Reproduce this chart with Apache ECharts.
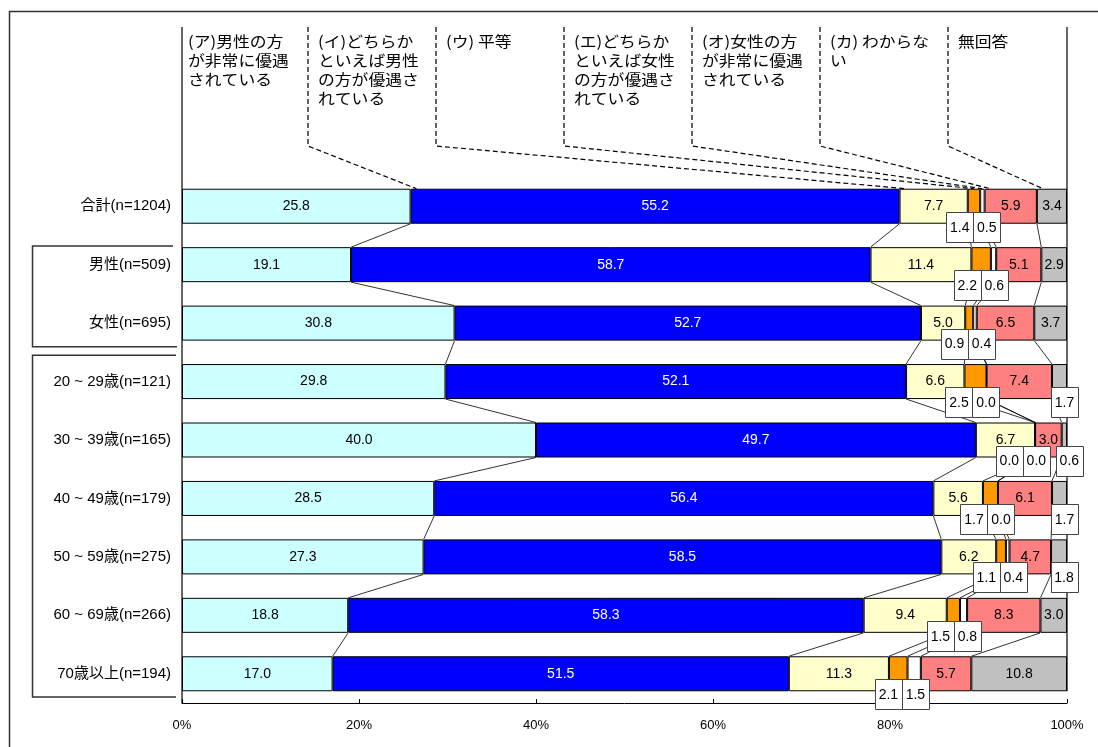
<!DOCTYPE html>
<html>
<head>
<meta charset="utf-8">
<script src="https://cdn.jsdelivr.net/npm/echarts@6/dist/echarts.min.js"></script>
<style>html,body{margin:0;padding:0;background:#fff}#c{width:1098px;height:747px}</style>
</head>
<body>
<div id="c"></div>
<script>
// ---------------- data ----------------
const categories = ['合計(n=1204)', '男性(n=509)', '女性(n=695)', '20 ~ 29歳(n=121)', '30 ~ 39歳(n=165)',
  '40 ~ 49歳(n=179)', '50 ~ 59歳(n=275)', '60 ~ 69歳(n=266)', '70歳以上(n=194)'];
const seriesNames = ['(ア)男性の方が非常に優遇されている', '(イ)どちらかといえば男性の方が優遇されている', '(ウ) 平等',
  '(エ)どちらかといえば女性の方が優遇されている', '(オ)女性の方が非常に優遇されている', '(カ) わからない', '無回答'];
const headerLines = [
  ['(ア)男性の方', 'が非常に優遇', 'されている'],
  ['(イ)どちらか', 'といえば男性', 'の方が優遇さ', 'れている'],
  ['(ウ) 平等'],
  ['(エ)どちらか', 'といえば女性', 'の方が優遇さ', 'れている'],
  ['(オ)女性の方', 'が非常に優遇', 'されている'],
  ['(カ) わからな', 'い'],
  ['無回答']
];
const valA  = [25.8, 19.1, 30.8, 29.8, 40.0, 28.5, 27.3, 18.8, 17.0];
const valI  = [55.2, 58.7, 52.7, 52.1, 49.7, 56.4, 58.5, 58.3, 51.5];
const valU  = [7.7, 11.4, 5.0, 6.6, 6.7, 5.6, 6.2, 9.4, 11.3];
const valE  = [1.4, 2.2, 0.9, 2.5, 0.0, 1.7, 1.1, 1.5, 2.1];
const valO  = [0.5, 0.6, 0.4, 0.0, 0.0, 0.0, 0.4, 0.8, 1.5];
const valKa = [5.9, 5.1, 6.5, 7.4, 3.0, 6.1, 4.7, 8.3, 5.7];
const valNA = [3.4, 2.9, 3.7, 1.7, 0.6, 1.7, 1.8, 3.0, 10.8];
const xTicks = [0, 20, 40, 60, 80, 100];
const xTickLabels = ['0%', '20%', '40%', '60%', '80%', '100%'];

// ---------------- style ----------------
const colors = ['#CCFFFF', '#0000FF', '#FFFFCC', '#FF9900', '#FFFFFF', '#FF8080', '#C0C0C0'];
const FONT = '"Liberation Sans", Arial, "Noto Sans CJK JP", sans-serif';
const JFONT = '"Noto Sans CJK JP", "Liberation Sans", sans-serif';
const BAR = 35;

const raw = [valA, valI, valU, valE, valO, valKa, valNA];
const rowSum = categories.map((_, r) => raw.reduce((s, a) => s + a[r], 0));
const norm = raw.map(a => a.map((v, r) => v / rowSum[r] * 100));

const chart = echarts.init(document.getElementById('c'));
const series = raw.map((arr, k) => ({
  name: seriesNames[k],
  type: 'bar',
  stack: 'all',
  barWidth: BAR,
  data: norm[k].map((v, r) => ({ value: v, raw: arr[r] })),
  itemStyle: { color: colors[k], borderColor: '#000', borderWidth: 1 },
  label: {
    show: true, position: 'inside', fontSize: 14, fontFamily: FONT,
    color: k === 1 ? '#fff' : '#000',
    formatter: p => (p.data.raw > 2.5 ? p.data.raw.toFixed(1) : '')
  },
  emphasis: { disabled: true },
  silent: true
}));

chart.setOption({
  animation: false,
  backgroundColor: '#fff',
  grid: { left: 182, right: 31, top: 177, bottom: 44 },
  xAxis: {
    type: 'value', min: 0, max: 100, interval: 20,
    axisLine: { show: true, lineStyle: { color: '#000', width: 1 } },
    axisTick: { show: true, inside: true, length: 4, lineStyle: { color: '#000' } },
    splitLine: { show: false },
    axisLabel: { formatter: v => xTickLabels[xTicks.indexOf(v)], fontSize: 13, color: '#000', fontFamily: FONT, margin: 16 }
  },
  yAxis: {
    type: 'category', data: categories, inverse: true,
    axisLine: { show: false }, axisTick: { show: false },
    axisLabel: { fontSize: 15, color: '#000', fontFamily: FONT, margin: 11 }
  },
  series: series
});

// ---------------- overlays computed from the axes ----------------
const P = (v, r) => chart.convertToPixel({ gridIndex: 0 }, [v, r]);
const nR = categories.length;
const band = P(0, 1)[1] - P(0, 0)[1];
const yC = r => P(0, r)[1];
const yTop = r => yC(r) - BAR / 2;
const yBot = r => yC(r) + BAR / 2;
const X = v => P(v, 0)[0];
const cum = categories.map((_, r) => {
  const c = [0];
  for (let k = 0; k < raw.length; k++) c.push(c[k] + norm[k][r]);
  return c;
});
const x0 = X(0), x100 = X(100);
const g = [];

// outer frame
g.push({ type: 'rect', z: 0, shape: { x: 9.5, y: 11.5, width: 1100, height: 745 },
  style: { fill: null, stroke: '#333', lineWidth: 1.5 } });
// group brackets
const br = (y1, y2, xr1, xr2) => g.push({ type: 'polyline', z: 1,
  shape: { points: [[xr1, y1], [32.5, y1], [32.5, y2], [xr2, y2]] },
  style: { fill: null, stroke: '#333', lineWidth: 1.5 } });
const b01 = (yC(0) + yC(1)) / 2, b23 = (yC(2) + yC(3)) / 2, bEnd = yC(nR - 1) + band / 2;
br(b01 + 10.5, b23 - 5.5, 173, 177);
br(b23 + 3, bEnd - 6, 176, 176);
// left axis line & right line
g.push({ type: 'line', z: 5, shape: { x1: x0, y1: 27, x2: x0, y2: bEnd }, style: { stroke: '#000', lineWidth: 1.2 } });
g.push({ type: 'line', z: 5, shape: { x1: x100, y1: 27, x2: x100, y2: yBot(nR - 1) }, style: { stroke: '#000', lineWidth: 1.2 } });

// header texts & dashed leaders
const hdrX = [x0, 308, 436, 564, 692, 820, 948];
headerLines.forEach((lines, k) => {
  lines.forEach((t, i) => g.push({ type: 'text', z: 5, x: hdrX[k] + (k === 0 ? 6 : 10), y: 41.7 + 19 * i,
    scaleX: 1.12,
    style: { text: t, fill: '#000', fontSize: 15, fontFamily: JFONT, align: 'left', verticalAlign: 'middle' } }));
  if (k > 0) {
    const xs = X(cum[0][k]);
    const w = X(cum[0][k + 1]) - xs;
    const ex = xs + Math.min(6, w / 2);
    g.push({ type: 'polyline', z: 5,
      shape: { points: [[hdrX[k], 27], [hdrX[k], 146], [ex, yTop(0)]] },
      style: { fill: null, stroke: '#000', lineWidth: 1.2, lineDash: [5, 3] } });
  }
});

// series lines between consecutive bars
for (let r = 0; r < nR - 1; r++) {
  for (let k = 1; k < raw.length; k++) {
    g.push({ type: 'line', z: 3,
      shape: { x1: X(cum[r][k]), y1: yBot(r), x2: X(cum[r + 1][k]), y2: yTop(r + 1) },
      style: { stroke: '#000', lineWidth: 0.8 } });
  }
}

// callout boxes for small values
const BW = 27, BH = 30;
const box = (cx, cy, txt) => {
  g.push({ type: 'rect', z: 50, shape: { x: Math.round(cx - BW / 2) + 0.5, y: Math.round(cy - BH / 2) + 0.5, width: BW, height: BH },
    style: { fill: '#fff', stroke: '#444', lineWidth: 1 } });
  g.push({ type: 'text', z: 51, x: cx, y: cy + 1,
    style: { text: txt, fill: '#000', fontSize: 14, fontFamily: FONT, align: 'center', verticalAlign: 'middle' } });
};
for (let r = 0; r < nR; r++) {
  const cy = yBot(r) + 3;
  let naCx = null;
  if (valNA[r] <= 2.5) {
    naCx = (X(cum[r][6]) + X(cum[r][7])) / 2 + 5;
  }
  let mid = (X(cum[r][3]) + X(cum[r][5])) / 2 - 3;
  if (naCx !== null && mid + BW > naCx - BW / 2 - 6) mid = naCx - BW / 2 - 6 - BW;
  box(mid - BW / 2, cy, valE[r].toFixed(1));
  box(mid + BW / 2, cy, valO[r].toFixed(1));
  if (naCx !== null) box(naCx, cy, valNA[r].toFixed(1));
}

chart.setOption({ graphic: { elements: g } });
</script>
</body>
</html>
